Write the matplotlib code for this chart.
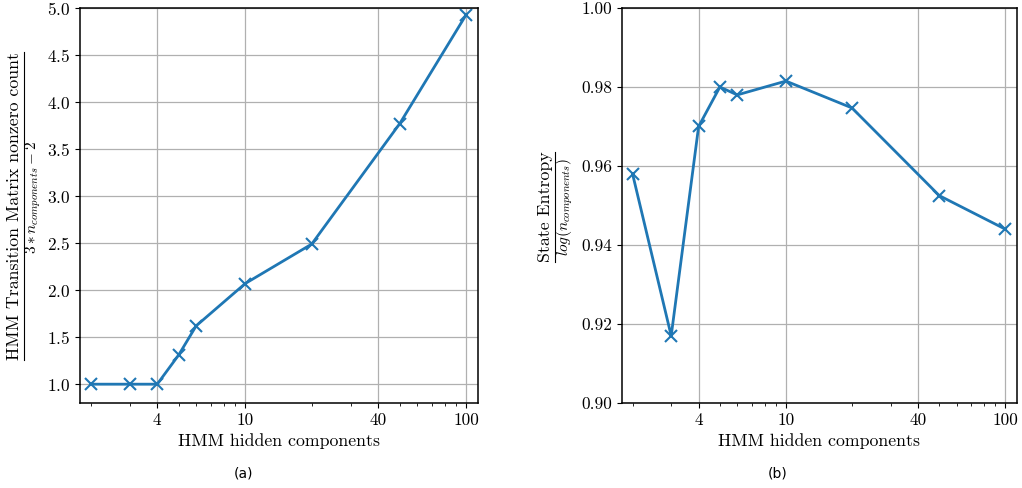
import numpy as np
import matplotlib
matplotlib.use("Agg")
import matplotlib.pyplot as plt
from matplotlib.lines import Line2D
from matplotlib.ticker import FixedLocator, FixedFormatter, LogLocator, NullFormatter

plt.rcParams['font.family'] = 'serif'
plt.rcParams['font.serif'] = ['cmr10']
plt.rcParams['mathtext.fontset'] = 'cm'
plt.rcParams['axes.formatter.use_mathtext'] = True
plt.rcParams['axes.unicode_minus'] = False

n_components = [2, 3, 4, 5, 6, 10, 20, 50, 100]
nonzero_ratio = [1.0, 1.0, 1.0, 1.31, 1.62, 2.07, 2.49, 3.77, 4.93]
state_entropy = [0.958, 0.917, 0.970, 0.980, 0.978, 0.9815, 0.9747, 0.9525, 0.944]
xticks = [4, 10, 40, 100]
xticklabels = ['4', '10', '40', '100']

W, H = 1022, 488
fig = plt.figure(figsize=(W / 100, H / 100), dpi=100)
ax1 = fig.add_axes([0.0783, 0.1742, 0.3894, 0.8094])
ax2 = fig.add_axes([0.6086, 0.1742, 0.3865, 0.8094])

def style(ax):
    ax.set_xscale('log')
    ax.set_xlim(1.79, 113)
    ax.xaxis.set_major_locator(FixedLocator(xticks))
    ax.xaxis.set_major_formatter(FixedFormatter(xticklabels))
    ax.xaxis.set_minor_locator(LogLocator(base=10, subs=np.arange(2, 10)))
    ax.xaxis.set_minor_formatter(NullFormatter())
    ax.grid(True, which='major', color='#b0b0b0', linewidth=0.9)
    ax.set_axisbelow(True)
    ax.tick_params(labelsize=12.5)
    ax.set_xlabel('HMM hidden components', fontsize=12.8)
    for s in ax.spines.values():
        s.set_linewidth(1.1)

# manual fraction-style y labels: big numerator, small denominator
def frac_label(xnum, xden, xline, ynum, yden, num, den):
    t1 = fig.text(xnum / W, ynum, num, rotation=90, ha='center', va='center', fontsize=12.8)
    t2 = fig.text(xden / W, yden, den, rotation=90, ha='center', va='center', fontsize=11)
    fig.canvas.draw()
    r = fig.canvas.get_renderer()
    h = max(t1.get_window_extent(r).height, t2.get_window_extent(r).height) / H
    fig.add_artist(Line2D([xline / W, xline / W], [ynum - h / 2, ynum + h / 2],
                          transform=fig.transFigure, color='black', linewidth=0.8))

ax1.plot(n_components, nonzero_ratio, color='#1f77b4', marker='x', markersize=9,
         markeredgewidth=1.5, linewidth=2)
style(ax1)
ax1.set_ylim(0.8, 5.0)
ax1.set_yticks(np.arange(1.0, 5.01, 0.5))

ax2.plot(n_components, state_entropy, color='#1f77b4', marker='x', markersize=9,
         markeredgewidth=1.5, linewidth=2)
style(ax2)
ax2.set_ylim(0.90, 1.00)
ax2.set_yticks([0.90, 0.92, 0.94, 0.96, 0.98, 1.00])
ax2.set_yticklabels(['0.90', '0.92', '0.94', '0.96', '0.98', '1.00'])

frac_label(14, 33.5, 23.5, 0.578, 0.596, 'HMM Transition Matrix nonzero count', r'$3*n_{components}-2$')
frac_label(545, 564.5, 554.5, 0.576, 0.576, 'State Entropy', r'$log(n_{components})$')

fig.text(0.2378, 0.03, '(a)', ha='center', va='center', fontsize=10, family='DejaVu Sans')
fig.text(0.7613, 0.03, '(b)', ha='center', va='center', fontsize=10, family='DejaVu Sans')

fig.savefig('out.png', dpi=100)
